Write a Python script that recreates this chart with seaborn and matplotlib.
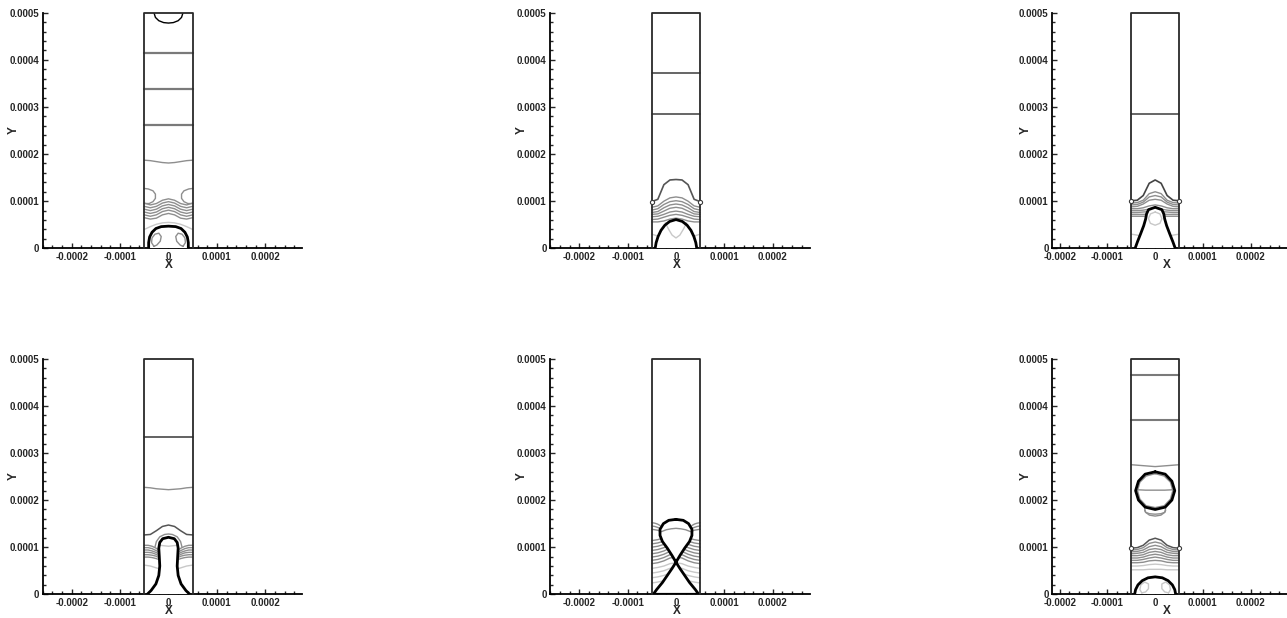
import numpy as np
import matplotlib
matplotlib.use("Agg")
import matplotlib.pyplot as plt
from matplotlib.ticker import MultipleLocator, FuncFormatter
import seaborn as sns

# --- data (micrometres) ---

# x stations across the channel used by every iso-line below
XG = [-50, -37.5, -25, -12.5, 0, 12.5, 25, 37.5, 50]

# frame 1 : small cap at the orifice
p1_levels = [415, 338, 262]
p1_soft = [187, 186, 184, 182, 181, 182, 184, 186, 187]
p1_cap_x = [-30, -27, -20, -10, 0, 10, 20, 27, 30]
p1_cap_y = [500, 490, 483, 479, 478, 479, 483, 490, 500]
p1_lobe_x = [-50, -40, -32, -27, -27, -32, -42, -50]
p1_lobe_y = [95, 95, 99, 106, 115, 122, 126, 127]
p1_waves = [
    [96, 92, 95, 102, 105, 102, 95, 92, 96],
    [89, 86, 89, 96, 99, 96, 89, 86, 89],
    [83, 80, 83, 90, 93, 90, 83, 80, 83],
    [77, 74, 77, 84, 87, 84, 77, 74, 77],
    [71, 68, 71, 78, 81, 78, 71, 68, 71],
    [65, 62, 64, 71, 74, 71, 64, 62, 65],
]
p1_light = [[40, 46, 51, 54, 55, 54, 51, 46, 40]]
p1_bub_x = [41, 41, 39, 34, 26, 15, 0]
p1_bub_y = [0, 12, 24, 34, 42, 46, 47]
p1_loop_x = [-30, -35, -34, -28, -20, -15, -17, -24, -30]
p1_loop_y = [4, 12, 22, 30, 32, 25, 15, 7, 4]

# frame 2 : growing dome
p2_levels = [372, 285]
p2_bump = [99, 104, 135, 145, 146, 145, 135, 104, 99]
p2_waves = [
    [87, 90, 100, 107, 109, 107, 100, 90, 87],
    [81, 84, 93, 99, 101, 99, 93, 84, 81],
    [76, 78, 86, 92, 94, 92, 86, 78, 76],
    [72, 73, 79, 85, 87, 85, 79, 73, 72],
    [67, 68, 72, 77, 79, 77, 72, 68, 67],
    [61, 62, 66, 70, 72, 70, 66, 62, 61],
    [56, 56, 58, 62, 64, 62, 58, 56, 56],
]
p2_light = [[30, 26, 20, 15, 14, 15, 20, 26, 30]]
p2_bub_x = [43, 41, 37, 31, 23, 13, 0]
p2_bub_y = [0, 12, 25, 38, 49, 57, 61]
p2_in_x = [-22, -15, -8, 0, 8, 15, 22]
p2_in_y = [54, 40, 28, 22, 28, 40, 54]
p2_dots = [99]

# frame 3 : elongating finger
p3_levels = [285]
p3_bump = [101, 102, 112, 138, 145, 138, 112, 102, 101]
p3_waves = [
    [96, 97, 102, 116, 120, 116, 102, 97, 96],
    [92, 93, 98, 109, 112, 109, 98, 93, 92],
    [88, 89, 94, 102, 104, 102, 94, 89, 88],
    [84, 84, 86, 90, 92, 90, 86, 84, 84],
    [80, 80, 81, 83, 84, 83, 81, 80, 80],
    [76, 76, 77, 78, 79, 78, 77, 76, 76],
    [72, 72, 72, 73, 74, 73, 72, 72, 72],
    [68, 68, 68, 69, 70, 69, 68, 68, 68],
]
p3_light = [[30, 28, 24, 20, 19, 20, 24, 28, 30]]
p3_bub_x = [42, 37, 30, 24, 20, 18, 14, 0]
p3_bub_y = [0, 14, 32, 48, 62, 73, 82, 87]
p3_in_x = [0, 10, 14, 10, 0, -10, -14, -10, 0]
p3_in_y = [77, 73, 63, 53, 49, 53, 63, 73, 77]
p3_dots = [101]

# frame 4 : necking
p4_levels = [333]
p4_soft = [227, 226, 224, 223, 222, 223, 224, 226, 227]
p4_bump = [126, 127, 135, 144, 147, 144, 135, 127, 126]
p4_cap_x = [-28, -25, -18, -8, 0, 8, 18, 25, 28]
p4_cap_y = [100, 112, 122, 127, 128, 127, 122, 112, 100]
p4_wing_x = [-50, -42, -34, -26, -20]
p4_wings = [
    [104, 104, 102, 98, 94],
    [99, 99, 97, 93, 90],
    [94, 94, 92, 89, 86],
    [89, 89, 88, 85, 82],
    [84, 84, 83, 81, 78],
    [79, 79, 78, 76, 74],
]
p4_light = [[62, 60, 56, 52, 50, 52, 56, 60, 62]]
p4_bub_x = [44, 36, 26, 20, 18, 19, 20, 18, 12, 0]
p4_bub_y = [0, 8, 22, 40, 60, 80, 98, 110, 118, 121]
p4_in_x = [-18, -9, 0, 9, 18]
p4_in_y = [104, 103, 102, 103, 104]

# frame 5 : pinch-off
p5_waves = [
    [114, 116, 120, 126, 128, 126, 120, 116, 114],
    [107, 109, 113, 119, 121, 119, 113, 109, 107],
    [100, 102, 106, 112, 114, 112, 106, 102, 100],
    [93, 95, 99, 105, 107, 105, 99, 95, 93],
    [86, 88, 92, 98, 100, 98, 92, 88, 86],
    [79, 81, 85, 91, 93, 91, 85, 81, 79],
    [72, 74, 78, 84, 86, 84, 78, 74, 72],
    [65, 67, 71, 77, 79, 77, 71, 67, 65],
]
p5_light = [
    [55, 57, 60, 65, 67, 65, 60, 57, 55],
    [45, 47, 50, 55, 57, 55, 50, 47, 45],
    [35, 37, 40, 45, 47, 45, 40, 37, 35],
    [24, 26, 29, 34, 36, 34, 29, 26, 24],
]
p5_wing_x = [-50, -44, -38, -33]
p5_wings = [
    [152, 151, 149, 146],
    [145, 144, 142, 140],
    [138, 137, 136, 134],
]
p5_bub_x = [0, 15, 26, 33, 33, 28, 18, 8, 0, -8, -18, -28, -40, -47]
p5_bub_y = [159, 157, 150, 138, 125, 112, 98, 82, 68, 55, 40, 25, 10, 0]
p5_in_x = [-30, -20, -10, 0, 10, 20, 30]
p5_in_y = [133, 137, 139, 140, 139, 137, 133]

# frame 6 : detached bubble rising, new cap at the orifice
p6_levels = [466, 369]
p6_soft = [275, 274, 273, 272, 271, 272, 273, 274, 275]
p6_drop_x = [0, 21, 35, 41, 35, 21, 0, -21, -35, -41, -35, -21, 0]
p6_drop_y = [260, 255, 240, 220, 200, 185, 180, 185, 200, 220, 240, 255, 260]
p6_ring_x = [0, 19, 32, 37, 32, 19, 0, -19, -32, -37, -32, -19, 0]
p6_ring_y = [256, 251, 238, 220, 202, 188, 184, 188, 202, 220, 238, 251, 256]
p6_mid_x = [-40, -20, 0, 20, 40]
p6_mid_y = [222, 221, 221, 221, 222]
p6_under_x = [-22, -20, -12, 0, 12, 20, 22]
p6_under_y = [[182, 174, 168, 166, 168, 174, 182], [178, 174, 171, 170, 171, 174, 178]]
p6_bump = [98, 99, 104, 115, 119, 115, 104, 99, 98]
p6_waves = [
    [94, 95, 99, 108, 111, 108, 99, 95, 94],
    [90, 91, 94, 101, 104, 101, 94, 91, 90],
    [86, 87, 89, 95, 97, 95, 89, 87, 86],
    [82, 82, 84, 89, 91, 89, 84, 82, 82],
    [77, 77, 79, 83, 85, 83, 79, 77, 77],
    [72, 72, 74, 77, 79, 77, 74, 72, 72],
    [67, 67, 68, 71, 72, 71, 68, 67, 67],
]
p6_light = [[60, 60, 61, 63, 64, 63, 61, 60, 60], [52, 52, 52, 53, 53, 53, 52, 52, 52]]
p6_bub_x = [43, 41, 36, 27, 15, 0]
p6_bub_y = [0, 10, 20, 29, 35, 37]
p6_loop_x = [-28, -32, -30, -22, -14, -14, -20, -28]
p6_loop_y = [3, 10, 20, 26, 22, 12, 5, 3]
p6_dots = [98]

# --- styling ---
DARK = "#3c3c3c"
MID = "#8e8e8e"
LIGHT = "#c8c8c8"
WALL = "#2a2a2a"

sns.set_style("white")
plt.rcParams["font.family"] = ["Liberation Sans", "DejaVu Sans"]
plt.rcParams["font.weight"] = "bold"

fig = plt.figure(figsize=(12.87, 6.18), dpi=100)
W, H = 1287, 618


def add_axes(left, top, right, bottom):
    return fig.add_axes([left / W, 1 - bottom / H, (right - left) / W, (bottom - top) / H])


def line(ax, x, y, color, lw, z=2):
    sns.lineplot(x=np.asarray(x, float), y=np.asarray(y, float), sort=False,
                 estimator=None, color=color, lw=lw, ax=ax, zorder=z, legend=False)


def full_outline(hx, hy):
    # mirror a right-half outline (base -> top) into a closed shape
    xs = [-v for v in hx] + hx[::-1][1:]
    ys = list(hy) + hy[::-1][1:]
    return xs, ys


def bubble(ax, xs, ys):
    ax.fill(xs, ys, color="white", zorder=3, lw=0)
    line(ax, xs, ys, "black", 2.0, z=5)


def frame(ax, xlim):
    ax.set_xlim(*xlim)
    ax.set_ylim(0, 500)
    ax.plot([-50, -50, 50, 50], [0, 500, 500, 0], color=WALL, lw=1.3,
            clip_on=False, zorder=6)
    for s in ["top", "right"]:
        ax.spines[s].set_visible(False)
    for s in ["left", "bottom"]:
        ax.spines[s].set_linewidth(1.3)
        ax.spines[s].set_color("black")
    ax.xaxis.set_major_locator(MultipleLocator(100))
    ax.xaxis.set_minor_locator(MultipleLocator(20))
    ax.yaxis.set_major_locator(MultipleLocator(100))
    ax.yaxis.set_minor_locator(MultipleLocator(20))
    fmt = FuncFormatter(lambda v, p: f"{v * 1e-6:g}")
    ax.xaxis.set_major_formatter(fmt)
    ax.yaxis.set_major_formatter(fmt)
    ax.tick_params(which="major", direction="in", length=3.5, width=1, labelsize=7, pad=2.5,
                   bottom=True, left=True)
    ax.tick_params(which="minor", direction="in", length=2, width=1, bottom=True, left=True)
    ax.set_xlabel("X", fontsize=8.5, fontweight="bold")
    ax.set_ylabel("Y", fontsize=8.5, fontweight="bold")
    ax.xaxis.set_label_coords(0.487, -0.047)
    ax.yaxis.set_label_coords(-0.088, 0.5)
    ax.patch.set_alpha(0)


def levels(ax, ys, color, lw):
    for y in ys:
        line(ax, [-50, 50], [y, y], color, lw)


def waves(ax, rows, color, lw):
    for r in rows:
        line(ax, XG, r, color, lw)


def dots(ax, ys):
    for y in ys:
        ax.scatter([-50, 50], [y, y], s=9, facecolor="white", edgecolor=DARK, lw=0.8, zorder=7,
                   clip_on=False)


XL = (-260, 276)
XL3 = (-216, 276)

# frame 1
ax = add_axes(42.7, 12.7, 302, 248.3)
frame(ax, XL)
levels(ax, p1_levels, "#7a7a7a", 1.6)
line(ax, XG, p1_soft, MID, 1.0)
line(ax, p1_cap_x, p1_cap_y, "black", 1.0)
line(ax, p1_lobe_x, p1_lobe_y, MID, 1.0)
line(ax, [-v for v in p1_lobe_x], p1_lobe_y, MID, 1.0)
waves(ax, p1_waves, MID, 1.0)
waves(ax, p1_light, LIGHT, 1.0)
bx, by = full_outline(p1_bub_x, p1_bub_y)
bubble(ax, bx, by)
line(ax, p1_loop_x, p1_loop_y, MID, 1.0, z=4)
line(ax, [-v for v in p1_loop_x], p1_loop_y, MID, 1.0, z=4)

# frame 2
ax = add_axes(550.2, 12.7, 809.5, 248.3)
frame(ax, XL)
levels(ax, p2_levels, DARK, 1.1)
line(ax, XG, p2_bump, "#555555", 1.2)
waves(ax, p2_waves, MID, 1.0)
waves(ax, p2_light, LIGHT, 1.0)
dots(ax, p2_dots)
bx, by = full_outline(p2_bub_x, p2_bub_y)
bubble(ax, bx, by)
line(ax, p2_in_x, p2_in_y, LIGHT, 1.0, z=4)

# frame 3
ax = add_axes(1052, 12.7, 1287, 248.3)
frame(ax, XL3)
levels(ax, p3_levels, DARK, 1.1)
line(ax, XG, p3_bump, "#444444", 1.2)
waves(ax, p3_waves, MID, 1.0)
waves(ax, p3_light, LIGHT, 1.0)
dots(ax, p3_dots)
bx, by = full_outline(p3_bub_x, p3_bub_y)
bubble(ax, bx, by)
line(ax, p3_in_x, p3_in_y, LIGHT, 1.0, z=4)

# frame 4
ax = add_axes(42.7, 358.7, 302, 594.3)
frame(ax, XL)
levels(ax, p4_levels, "#555555", 1.3)
line(ax, XG, p4_soft, MID, 1.0)
line(ax, XG, p4_bump, "#555555", 1.1)
line(ax, p4_cap_x, p4_cap_y, MID, 1.0)
for r in p4_wings:
    line(ax, p4_wing_x, r, MID, 1.0)
    line(ax, [-v for v in p4_wing_x], r, MID, 1.0)
waves(ax, p4_light, LIGHT, 1.0)
bx, by = full_outline(p4_bub_x, p4_bub_y)
bubble(ax, bx, by)
line(ax, p4_in_x, p4_in_y, LIGHT, 1.0, z=4)

# frame 5
ax = add_axes(550.2, 358.7, 809.5, 594.3)
frame(ax, XL)
waves(ax, p5_waves, MID, 1.0)
waves(ax, p5_light, LIGHT, 1.0)
for r in p5_wings:
    line(ax, p5_wing_x, r, MID, 1.0)
    line(ax, [-v for v in p5_wing_x], r, MID, 1.0)
bx = p5_bub_x + [-v for v in p5_bub_x[::-1]]
by = p5_bub_y + p5_bub_y[::-1]
bubble(ax, bx, by)
line(ax, p5_in_x, p5_in_y, MID, 1.0, z=4)

# frame 6
ax = add_axes(1052, 358.7, 1287, 594.3)
frame(ax, XL3)
levels(ax, p6_levels, "#7a7a7a", 1.5)
line(ax, XG, p6_soft, MID, 1.0)
for r in p6_under_y:
    line(ax, p6_under_x, r, MID, 1.0)
line(ax, XG, p6_bump, "#555555", 1.1)
waves(ax, p6_waves, MID, 1.0)
waves(ax, p6_light, LIGHT, 1.0)
dots(ax, p6_dots)
ax.fill(p6_drop_x, p6_drop_y, color="white", zorder=3, lw=0)
line(ax, p6_ring_x, p6_ring_y, MID, 1.0, z=4)
line(ax, p6_mid_x, p6_mid_y, MID, 1.0, z=4)
line(ax, p6_drop_x, p6_drop_y, "black", 2.0, z=5)
bx, by = full_outline(p6_bub_x, p6_bub_y)
bubble(ax, bx, by)
line(ax, p6_loop_x, p6_loop_y, LIGHT, 1.0, z=4)
line(ax, [-v for v in p6_loop_x], p6_loop_y, LIGHT, 1.0, z=4)

fig.savefig("out.png", dpi=100)
